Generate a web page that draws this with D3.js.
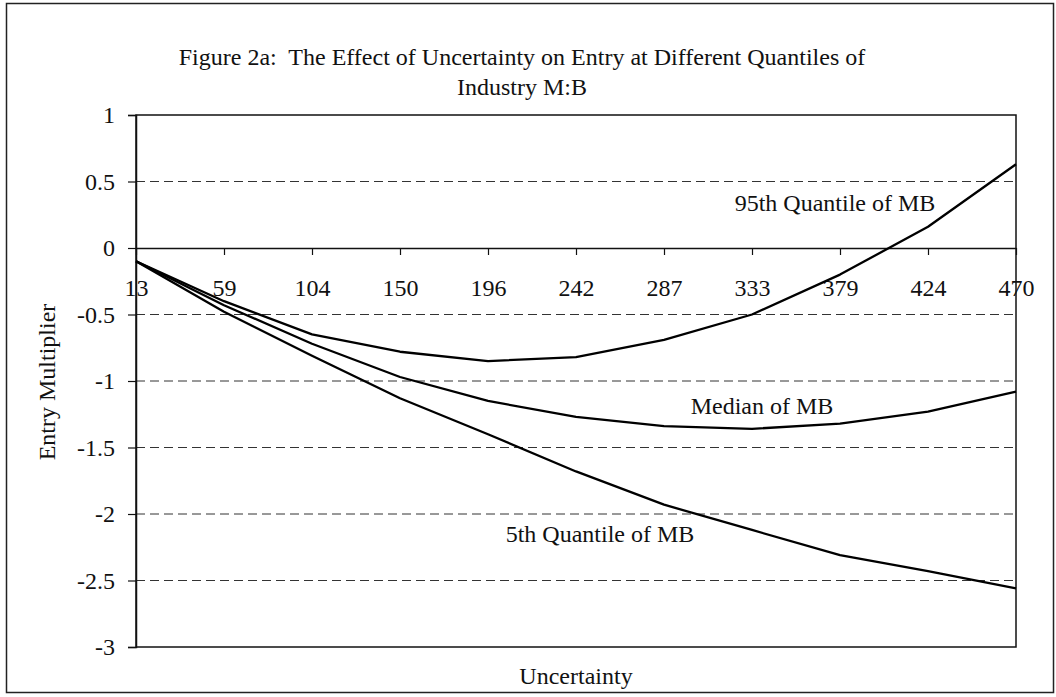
<!DOCTYPE html>
<html lang="en">
<head>
    <meta charset="UTF-8">
    <title>Figure 2a</title>
    <style>
        body { margin: 0; background: #fff; }
        svg text { font-family: "Liberation Serif", "DejaVu Serif", serif; fill: #111; font-size: 24px; }
        .grid line { stroke: #333; stroke-dasharray: 9,5; stroke-width: 1; }
        .curve { fill: none; stroke: #000; stroke-width: 2.3; stroke-linejoin: round; }
        .title { white-space: pre; }
    </style>
</head>
<body>
<div id="chart"></div>

<script src="https://d3js.org/d3.v7.min.js"></script>
<script type="text/javascript">

        // uncertainty categories (x axis)
        const categories = [13, 59, 104, 150, 196, 242, 287, 333, 379, 424, 470];

        // entry multiplier per quantile of industry M:B
        const q95 = [-0.10, -0.40, -0.65, -0.78, -0.85, -0.82, -0.69, -0.50, -0.20, 0.16, 0.63];
        const median = [-0.10, -0.43, -0.72, -0.97, -1.15, -1.27, -1.34, -1.36, -1.32, -1.23, -1.08];
        const q05 = [-0.10, -0.48, -0.81, -1.13, -1.40, -1.68, -1.93, -2.12, -2.31, -2.43, -2.56];

        const yTicks = [1, 0.5, 0, -0.5, -1, -1.5, -2, -2.5, -3];
        const seriesLabels = ["95th Quantile of MB", "Median of MB", "5th Quantile of MB"];

        const width = 1056;
        const height = 697;
        const plot = { left: 136, right: 1016, top: 115, bottom: 647 };

        const svg = d3.select("#chart")
                .append("svg")
                .attr("width", width)
                .attr("height", height);

        // outer frame
        svg.append("rect")
                .attr("x", 6.5)
                .attr("y", 3.5)
                .attr("width", 1047)
                .attr("height", 689)
                .attr("fill", "none")
                .attr("stroke", "#222")
                .attr("stroke-width", 1.5);

        const x = d3.scalePoint()
                .domain(categories)
                .range([plot.left, plot.right]);

        const y = d3.scaleLinear()
                .domain([-3, 1])
                .range([plot.bottom, plot.top]);

        // dashed gridlines
        svg.append("g")
                .attr("class", "grid")
                .selectAll("line")
                .data(yTicks.filter(d => d !== 0 && d !== 1 && d !== -3))
                .enter()
                .append("line")
                .attr("x1", plot.left)
                .attr("x2", plot.right)
                .attr("y1", d => y(d))
                .attr("y2", d => y(d));

        // plot border
        svg.append("rect")
                .attr("x", plot.left)
                .attr("y", plot.top)
                .attr("width", plot.right - plot.left)
                .attr("height", plot.bottom - plot.top)
                .attr("fill", "none")
                .attr("stroke", "#111")
                .attr("stroke-width", 1.5);

        // y axis
        const yAxis = svg.append("g")
                .attr("transform", `translate(${plot.left},0)`)
                .call(d3.axisLeft(y).tickValues(yTicks).tickSize(8).tickPadding(13).tickFormat(d => String(d)));
        yAxis.select(".domain").attr("stroke", "#111").attr("stroke-width", 1.5);
        yAxis.selectAll(".tick line").attr("stroke", "#111").attr("stroke-width", 1.2);
        yAxis.selectAll("text").attr("fill", "#111");

        // x axis crossing at zero
        const xAxis = svg.append("g")
                .attr("transform", `translate(0,${y(0)})`)
                .call(d3.axisBottom(x).tickSize(7).tickPadding(24).tickSizeOuter(0));
        xAxis.select(".domain").attr("stroke", "#111").attr("stroke-width", 1.5);
        xAxis.selectAll(".tick line").attr("stroke", "#111").attr("stroke-width", 1.2);
        xAxis.selectAll("text").attr("fill", "#111");

        // curves
        const line = d3.line()
                .x((d, i) => x(categories[i]))
                .y(d => y(d));

        svg.selectAll(".curve")
                .data([q95, median, q05])
                .enter()
                .append("path")
                .attr("class", "curve")
                .attr("d", line);

        // curve labels
        const labelPos = [
                { x: 835, y: 211 },
                { x: 762, y: 414 },
                { x: 600, y: 542 }
        ];
        svg.selectAll(".series-label")
                .data(seriesLabels)
                .enter()
                .append("text")
                .attr("class", "series-label")
                .attr("x", (d, i) => labelPos[i].x)
                .attr("y", (d, i) => labelPos[i].y)
                .attr("text-anchor", "middle")
                .text(d => d);

        // titles
        svg.append("text")
                .attr("class", "title")
                .attr("x", 522)
                .attr("y", 65)
                .attr("text-anchor", "middle")
                .text("Figure 2a:  The Effect of Uncertainty on Entry at Different Quantiles of");

        svg.append("text")
                .attr("class", "title")
                .attr("x", 522)
                .attr("y", 95)
                .attr("text-anchor", "middle")
                .text("Industry M:B");

        svg.append("text")
                .attr("x", (plot.left + plot.right) / 2)
                .attr("y", 684)
                .attr("text-anchor", "middle")
                .text("Uncertainty");

        svg.append("text")
                .attr("transform", "translate(55,382) rotate(-90)")
                .attr("text-anchor", "middle")
                .text("Entry Multiplier");

</script>
</body>
</html>
